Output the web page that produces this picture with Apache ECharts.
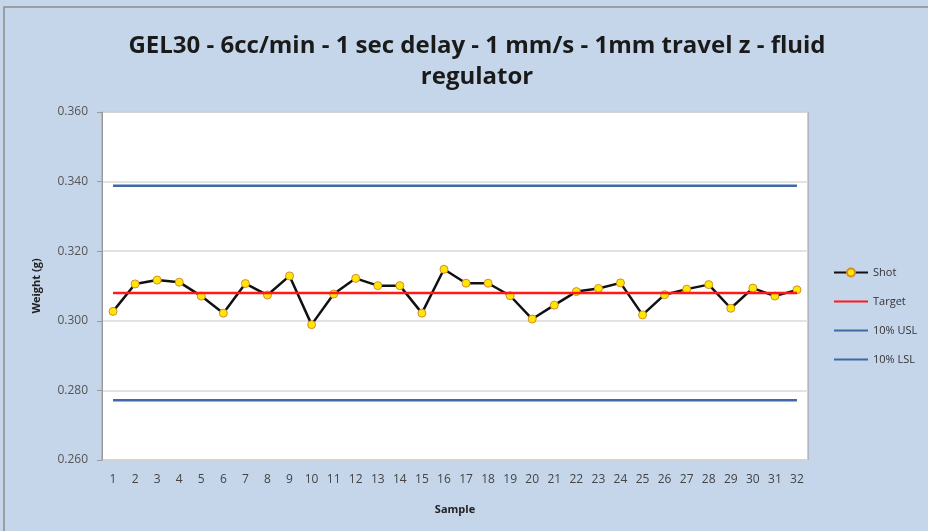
<!DOCTYPE html>
<html>
<head>
<meta charset="utf-8">
<script src="https://cdn.jsdelivr.net/npm/echarts@6/dist/echarts.min.js"></script>
<style>
html,body{margin:0;padding:0;background:#c5d5ea;}
#chart{width:928px;height:531px;}
</style>
</head>
<body>
<div id="chart"></div>
<script>
var samples = ['1','2','3','4','5','6','7','8','9','10','11','12','13','14','15','16','17','18','19','20','21','22','23','24','25','26','27','28','29','30','31','32'];
var shot = [0.3027,0.3106,0.3117,0.3111,0.3071,0.3022,0.3107,0.3074,0.3129,0.2989,0.3077,0.3122,0.3101,0.3101,0.3022,0.3148,0.3108,0.3108,0.3072,0.3005,0.3045,0.3084,0.3093,0.3109,0.3017,0.3075,0.3091,0.3104,0.3036,0.3094,0.3071,0.3089];
var targetValue = 0.308;
var uslValue = 0.3388;
var lslValue = 0.2772;
var target = samples.map(function(){return targetValue;});
var usl = samples.map(function(){return uslValue;});
var lsl = samples.map(function(){return lslValue;});
var yTicks = {min:0.26, max:0.36, interval:0.02};

var chart = echarts.init(document.getElementById('chart'));
var font = '"Open Sans", "Liberation Sans", sans-serif';
chart.setOption({
  backgroundColor:'#c5d5ea',
  animation:false,
  title:{
    text:'GEL30 - 6cc/min - 1 sec delay - 1 mm/s - 1mm travel z - fluid\nregulator',
    left:472, top:26, textAlign:'center',
    textStyle:{fontFamily:font, fontSize:24, fontWeight:'bold', color:'#1a1a1a', lineHeight:31}
  },
  graphic:[{type:'rect', shape:{x:4,y:7,width:1000,height:600}, style:{fill:'none', stroke:'#8c8c8c', lineWidth:1.5}, silent:true, z:-1}],
  grid:{left:102, top:112, width:706, height:348, show:true, backgroundColor:'#ffffff', borderColor:'#9a9a9a', borderWidth:1, containLabel:false},
  legend:{
    orient:'vertical', left:828, top:262, itemGap:18, itemWidth:34, itemHeight:10, itemStyle:{},
    textStyle:{fontFamily:font, fontSize:11, color:'#333'},
    data:[
      {name:'Shot'},
      {name:'Target', itemStyle:{opacity:0}},
      {name:'10% USL', itemStyle:{opacity:0}},
      {name:'10% LSL', itemStyle:{opacity:0}}
    ]
  },
  xAxis:{
    type:'category', data:samples, boundaryGap:true,
    name:'Sample', nameLocation:'middle', nameGap:44,
    nameTextStyle:{fontFamily:font, fontSize:11, fontWeight:'bold', color:'#222'},
    axisLine:{show:false}, axisTick:{show:false},
    axisLabel:{fontFamily:font, fontSize:12, color:'#444', margin:14, interval:0}
  },
  yAxis:{
    type:'value', min:yTicks.min, max:yTicks.max, interval:yTicks.interval,
    name:'Weight (g)', nameLocation:'middle', nameGap:60, nameRotate:90,
    nameTextStyle:{fontFamily:font, fontSize:11, fontWeight:'bold', color:'#222'},
    axisLine:{show:true, lineStyle:{color:'#9a9a9a'}},
    axisTick:{show:true, length:5, inside:false, lineStyle:{color:'#9a9a9a'}},
    splitLine:{show:true, lineStyle:{color:'#d9d9d9', width:1.5}},
    axisLabel:{fontFamily:font, fontSize:12, color:'#555', margin:14, formatter:function(v){return v.toFixed(3);}}
  },
  series:[
    {name:'10% USL', type:'line', data:usl, symbol:'none', lineStyle:{color:'#3f68a4', width:2.5}, itemStyle:{color:'#3f68a4'}, z:2},
    {name:'10% LSL', type:'line', data:lsl, symbol:'none', lineStyle:{color:'#3f68a4', width:2.5}, itemStyle:{color:'#3f68a4'}, z:2},
    {name:'Shot', type:'line', data:shot, symbol:'circle', symbolSize:8, lineStyle:{color:'#111', width:2.5},
      itemStyle:{color:'#ffe800', borderColor:'#d98a2a', borderWidth:1}, z:3},
    {name:'Target', type:'line', data:target, symbol:'none', lineStyle:{color:'#ff1a1a', width:2.5}, itemStyle:{color:'#ff1a1a'}, z:4}
  ]
});
</script>
</body>
</html>
